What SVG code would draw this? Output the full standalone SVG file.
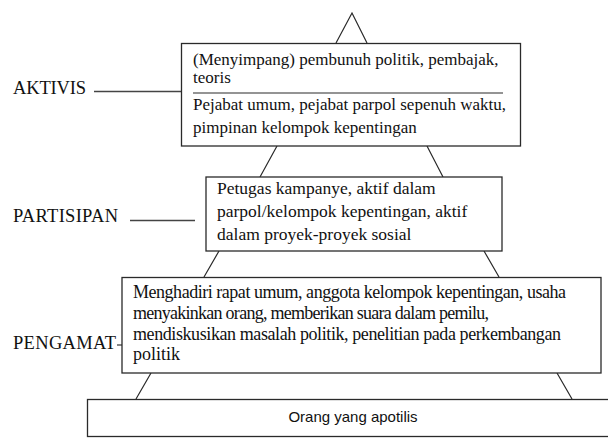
<svg xmlns="http://www.w3.org/2000/svg" width="608" height="438" viewBox="0 0 608 438">
<style>
.box{fill:#fff;stroke:#2a2a2a;stroke-width:1.3}
.ln{stroke:#2a2a2a;stroke-width:1.2;fill:none}
.lbl{stroke:#444;stroke-width:1.3;fill:none}
.t1{font-size:17px;fill:#111}
.t2{font-size:17.5px;fill:#111}
.t3{font-size:18px;fill:#111}
.tl{font-size:18.5px;fill:#111}
.s{font-size:15px;fill:#111}
</style>
<rect width="608" height="438" fill="#fff"/>
<g id="connectors">
<path class="ln" d="M336,43 L352,13 L367,43"/>
<path class="ln" d="M277,146 L260,177 M427,146 L443,177"/>
<path class="ln" d="M219,251 L204,277 M484,251 L499,277"/>
<path class="ln" d="M151,373 L136,399 M557,373 L572,399"/>
<path class="lbl" d="M94,91.5 L181,91.5"/>
<path class="lbl" d="M130,220.5 L195,220.5"/>
<path class="lbl" d="M117,345 L122,345"/>
</g>
<g font-family="'Liberation Serif', 'Times New Roman', serif">
<g id="aktivis">
<rect class="box" x="181.5" y="43.5" width="339" height="102.5"/>
<text class="t1" x="193" y="65">(Menyimpang) pembunuh politik, pembajak,</text>
<text class="t1" x="193" y="83">teoris</text>
<line class="ln" x1="193" y1="93" x2="503" y2="93"/>
<text class="t1" x="193" y="110">Pejabat umum, pejabat parpol sepenuh waktu,</text>
<text class="t1" x="193" y="133">pimpinan kelompok kepentingan</text>
</g>
<g id="label-aktivis"><text class="tl" x="13" y="94" textLength="73">AKTIVIS</text></g>
<g id="partisipan">
<rect class="box" x="206" y="177" width="296" height="74"/>
<text class="t2" x="217" y="194">Petugas kampanye, aktif dalam</text>
<text class="t2" x="217" y="217">parpol/kelompok kepentingan, aktif</text>
<text class="t2" x="217" y="240">dalam proyek-proyek sosial</text>
</g>
<g id="label-partisipan"><text class="tl" x="13" y="222" textLength="105">PARTISIPAN</text></g>
<g id="pengamat">
<rect class="box" x="122" y="277.5" width="479" height="95.5"/>
<text class="t3" x="133" y="298" textLength="433">Menghadiri rapat umum, anggota kelompok kepentingan, usaha</text>
<text class="t3" x="133" y="319" textLength="356">menyakinkan orang, memberikan suara dalam pemilu,</text>
<text class="t3" x="133" y="340" textLength="428">mendiskusikan masalah politik, penelitian pada perkembangan</text>
<text class="t3" x="133" y="360">politik</text>
</g>
<g id="label-pengamat"><text class="tl" x="13" y="349" textLength="103">PENGAMAT</text></g>
</g>
<g id="apatis" font-family="'Liberation Sans', Arial, sans-serif">
<rect class="box" x="87.5" y="399.5" width="530" height="37"/>
<text class="s" x="353" y="422" text-anchor="middle">Orang yang apotilis</text>
</g>
</svg>
